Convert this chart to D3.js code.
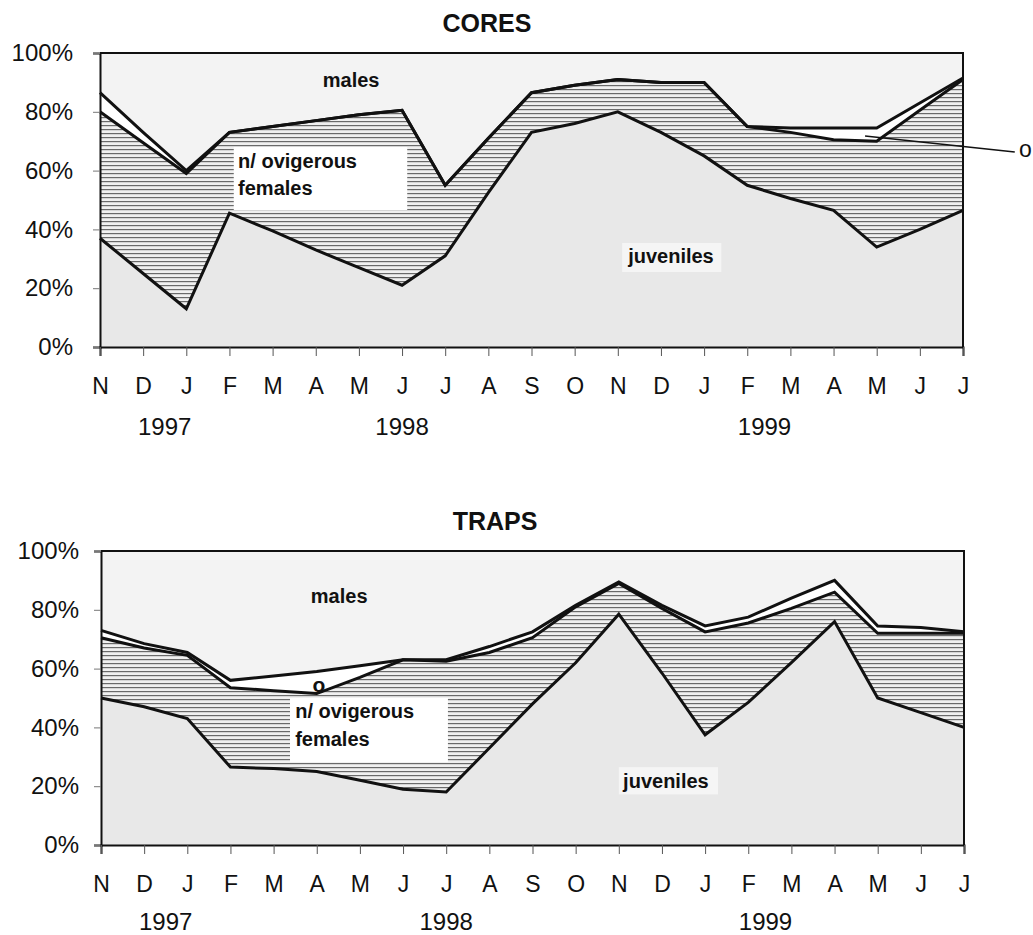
<!DOCTYPE html>
<html>
<head>
<meta charset="utf-8">
<script src="https://cdn.jsdelivr.net/npm/d3@7"></script>
<style>
  body { margin: 0; background: #fff; }
  svg { font-family: Arial, 'Liberation Sans', sans-serif; }
</style>
</head>
<body>
<div id="chart"></div>
<script>
// month ticks, Nov 1997 .. Jul 1999
const months = ['N', 'D', 'J', 'F', 'M', 'A', 'M', 'J', 'J', 'A', 'S', 'O', 'N', 'D', 'J', 'F', 'M', 'A', 'M', 'J', 'J'];
const years = ['1997', '1998', '1999'];
const yTicks = [0, 20, 40, 60, 80, 100];
const keys = ['juveniles', 'nOvig', 'ovig', 'males'];

// CORES, % of each class
const coresJuveniles = [37, 25, 13, 45.5, 39.5, 33, 27, 21, 31, 52.5, 73, 76, 80, 73, 65, 55, 50.5, 46.5, 34, 40, 46.5];
const coresNOvig = [43, 44.5, 46, 27.5, 35.5, 44, 52, 59.5, 24, 18.5, 13.5, 13, 11, 17, 25, 20, 22.5, 24, 36, 40.5, 44.5];
const coresOvig = [6.5, 3.5, 1, 0, 0, 0, 0, 0, 0, 0, 0, 0, 0, 0, 0, 0, 1.5, 4, 4.5, 2.5, 0.5];
const coresMales = [13.5, 27, 40, 27, 25, 23, 21, 19.5, 45, 29, 13.5, 11, 9, 10, 10, 25, 25.5, 25.5, 25.5, 17, 8.5];
const coresYearAt = [1.5, 7, 15.4];

// TRAPS, % of each class
const trapsJuveniles = [50, 47, 43, 26.5, 26, 25, 22, 19, 18, 33, 48, 62, 78.5, 58.5, 37.5, 48.5, 62, 76, 50, 45, 40];
const trapsNOvig = [20.5, 20, 21.5, 27, 26.5, 26.5, 35, 44, 44.5, 32.5, 22.5, 19, 10.5, 22, 35, 27, 18.5, 10, 22, 27, 32];
const trapsOvig = [2.5, 1.5, 1, 2.5, 5, 7.5, 4, 0, 0.5, 2, 2, 0.5, 0.5, 1, 2, 2, 3.5, 4, 2.5, 2, 0.5];
const trapsMales = [27, 31.5, 34.5, 44, 42.5, 41, 39, 37, 37, 32.5, 27.5, 18.5, 10.5, 18.5, 25.5, 22.5, 16, 10, 25.5, 26, 27.5];
const trapsYearAt = [1.5, 8, 15.4];

const fills = { juveniles: '#e8e8e8', nOvig: 'url(#hatch)', ovig: '#ffffff', males: '#f3f3f3' };

const svg = d3.select('#chart').append('svg')
  .attr('width', 1033)
  .attr('height', 935);

// horizontal hatching for n/ ovigerous females
const pat = svg.append('defs').append('pattern')
  .attr('id', 'hatch')
  .attr('patternUnits', 'userSpaceOnUse')
  .attr('width', 8)
  .attr('height', 4);
pat.append('rect').attr('width', 8).attr('height', 4).attr('fill', '#f0f0f0');
pat.append('line')
  .attr('x1', 0).attr('x2', 8).attr('y1', 0.6).attr('y2', 0.6)
  .attr('stroke', '#6a6a6a').attr('stroke-width', 1.2);

const makeRows = (juv, nov, ov, mal) => juv.map((d, i) => ({
  i, juveniles: d, nOvig: nov[i], ovig: ov[i], males: mal[i],
}));

const drawPanel = (opt) => {
  const w = 863;
  const h = 294;
  const g = svg.append('g').attr('transform', `translate(${opt.left},${opt.top})`);

  const x = d3.scaleLinear().domain([0, months.length - 1]).range([0, w]);
  const y = d3.scaleLinear().domain([0, 100]).range([h, 0]);

  const series = d3.stack().keys(keys)(opt.rows);

  const area = d3.area()
    .x((d) => x(d.data.i))
    .y0((d) => y(d[0]))
    .y1((d) => y(d[1]));

  g.selectAll('path.layer')
    .data(series)
    .enter().append('path')
    .attr('class', 'layer')
    .attr('d', area)
    .attr('fill', (d) => fills[d.key]);

  // label boxes sit over the fills
  opt.boxes.forEach((b) => {
    g.append('rect')
      .attr('x', x(b[0]))
      .attr('y', y(b[1]))
      .attr('width', x(b[2]) - x(b[0]))
      .attr('height', y(b[3]) - y(b[1]))
      .attr('fill', '#fff')
      .attr('opacity', b[4]);
  });

  // boundary lines between classes
  const line = d3.line()
    .x((d) => x(d.data.i))
    .y((d) => y(d[1]));

  g.selectAll('path.edge')
    .data(series.slice(0, 3))
    .enter().append('path')
    .attr('class', 'edge')
    .attr('d', line)
    .attr('fill', 'none')
    .attr('stroke', '#111')
    .attr('stroke-width', 3)
    .attr('stroke-linejoin', 'miter');

  // frame
  g.append('path')
    .attr('d', `M0,0H${w}V${h}`)
    .attr('fill', 'none')
    .attr('stroke', '#111')
    .attr('stroke-width', 2);

  const yAxis = d3.axisLeft(y)
    .tickValues(yTicks)
    .tickFormat((d) => `${d}%`)
    .tickSize(7)
    .tickPadding(opt.yPad);

  g.append('g')
    .attr('class', 'y-axis')
    .call(yAxis)
    .call((a) => a.select('.domain').attr('stroke', '#111').attr('stroke-width', 2))
    .call((a) => a.selectAll('.tick line').attr('stroke', '#777'))
    .call((a) => a.selectAll('.tick text').attr('font-size', 24).attr('fill', '#111'));

  const xAxis = d3.axisBottom(x)
    .tickValues(d3.range(months.length))
    .tickFormat((i) => months[i])
    .tickSizeOuter(0)
    .tickSize(9)
    .tickPadding(22);

  g.append('g')
    .attr('class', 'x-axis')
    .attr('transform', `translate(0,${h})`)
    .call(xAxis)
    .call((a) => a.select('.domain').attr('stroke', '#111').attr('stroke-width', 2))
    .call((a) => a.selectAll('.tick line').attr('stroke', '#555'))
    .call((a) => a.selectAll('.tick text').attr('font-size', 23).attr('fill', '#111'));

  g.selectAll('text.year')
    .data(years)
    .enter().append('text')
    .attr('class', 'year')
    .attr('x', (d, i) => x(opt.yearAt[i]))
    .attr('y', h + opt.yearDy)
    .attr('text-anchor', 'middle')
    .attr('font-size', 24)
    .attr('fill', '#111')
    .text((d) => d);

  g.append('text')
    .attr('x', opt.titleX)
    .attr('y', -21)
    .attr('text-anchor', 'middle')
    .attr('font-size', 25)
    .attr('font-weight', 'bold')
    .attr('fill', '#111')
    .text(opt.title);

  opt.labels.forEach((l) => {
    g.append('text')
      .attr('x', x(l[1]))
      .attr('y', y(l[2]))
      .attr('text-anchor', l[3])
      .attr('font-size', l[4])
      .attr('font-weight', l[5])
      .attr('fill', '#111')
      .text(l[0]);
  });

  if (opt.leader) {
    const L = opt.leader;
    g.append('line')
      .attr('x1', x(L[0])).attr('y1', y(L[1]))
      .attr('x2', x(L[2])).attr('y2', y(L[3]))
      .attr('stroke', '#111')
      .attr('stroke-width', 1.5);
  }
};

drawPanel({
  title: 'CORES',
  titleX: 387,
  left: 100,
  top: 53,
  yPad: 20,
  yearDy: 88,
  yearAt: coresYearAt,
  rows: makeRows(coresJuveniles, coresNOvig, coresOvig, coresMales),
  boxes: [[3.1, 68, 7.12, 46.6, 1], [12.1, 35.4, 14.4, 25.5, 0.55]],
  labels: [
    ['males', 5.82, 88.4, 'middle', 20, 'bold'],
    ['n/ ovigerous', 3.2, 60.9, 'start', 20, 'bold'],
    ['females', 3.2, 51.7, 'start', 20, 'bold'],
    ['juveniles', 12.24, 28.6, 'start', 20, 'bold'],
    ['o', 21.3, 64.6, 'start', 23, 'normal'],
  ],
  leader: [17.73, 71.8, 21.2, 66.3],
});

drawPanel({
  title: 'TRAPS',
  titleX: 394,
  left: 101,
  top: 551,
  yPad: 15,
  yearDy: 85,
  yearAt: trapsYearAt,
  rows: makeRows(trapsJuveniles, trapsNOvig, trapsOvig, trapsMales),
  boxes: [[4.38, 50, 8.04, 28.2, 1], [12.0, 26.5, 14.3, 17.2, 0.55]],
  labels: [
    ['males', 5.52, 82.3, 'middle', 20, 'bold'],
    ['o', 5.05, 52, 'middle', 21, 'bold'],
    ['n/ ovigerous', 4.5, 43.2, 'start', 20, 'bold'],
    ['females', 4.5, 33.7, 'start', 20, 'bold'],
    ['juveniles', 12.1, 19.4, 'start', 20, 'bold'],
  ],
  leader: null,
});
</script>
</body>
</html>
